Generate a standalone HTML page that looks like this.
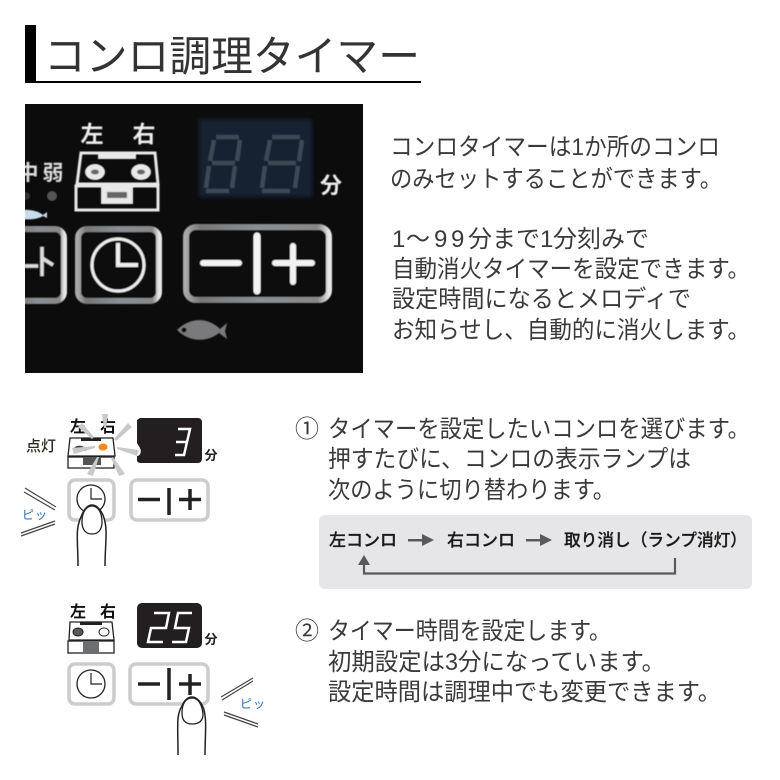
<!DOCTYPE html>
<html lang="ja">
<head>
<meta charset="utf-8">
<style>
html,body{margin:0;padding:0;background:#fff;}
svg{display:block;}
text{font-family:"Liberation Sans","Noto Sans CJK JP",sans-serif;}
.b{font-size:24px;fill:#3a3a3a;}
</style>
</head>
<body>
<svg width="780" height="780" viewBox="0 0 780 780" xmlns="http://www.w3.org/2000/svg">
<defs>
<linearGradient id="bz" x1="0" y1="0" x2="1" y2="0">
<stop offset="0" stop-color="#aaa"/><stop offset=".1" stop-color="#777"/><stop offset=".5" stop-color="#8a8f94"/><stop offset=".92" stop-color="#888"/><stop offset="1" stop-color="#e8e8e8"/>
</linearGradient>
<clipPath id="ph"><rect x="25" y="104" width="338" height="269"/></clipPath>
<filter id="sf" x="-5%" y="-5%" width="110%" height="110%"><feGaussianBlur stdDeviation="0.5"/></filter>
<filter id="sf2" x="-10%" y="-10%" width="120%" height="120%"><feGaussianBlur stdDeviation="2"/></filter>
</defs>
<rect width="780" height="780" fill="#fff"/>

<!-- Title -->
<rect x="25" y="25" width="11" height="58" fill="#000"/>
<rect x="36" y="81" width="385" height="2" fill="#000"/>
<text x="44" y="71" font-size="42" fill="#333" textLength="376" lengthAdjust="spacingAndGlyphs">コンロ調理タイマー</text>

<!-- Photo -->
<rect x="25" y="104" width="338" height="269" fill="#0c0c0d"/>
<g clip-path="url(#ph)">
<rect x="199" y="119" width="113" height="78" fill="#182431" filter="url(#sf2)"/>
<g filter="url(#sf)">
<g fill="none" stroke="#3c4a54" stroke-width="4.500">
<path d="M216 137H239M214 140l-4 21M240 140l-3 21M212 163H235M209 166l-3 22M235 166l-3 22M206 191H229"/>
<path d="M272 137H300M270 140l-4 21M302 140l-3 21M268 163H296M265 166l-3 22M298 166l-3 22M262 191H290"/>
</g>
<text x="92" y="142" font-size="23" font-weight="700" fill="#eee" text-anchor="middle">左</text>
<text x="144" y="142" font-size="23" font-weight="700" fill="#eee" text-anchor="middle">右</text>
<text x="331" y="193" font-size="22" font-weight="700" fill="#eee" text-anchor="middle">分</text>
<text x="28" y="180" font-size="21" font-weight="700" fill="#ddd" text-anchor="middle">中</text>
<text x="53" y="180" font-size="21" font-weight="700" fill="#ddd" text-anchor="middle">弱</text>
<circle cx="26" cy="196" r="4" fill="#333"/>
<circle cx="52" cy="196" r="5" fill="#555"/>
<path d="M20 210C33 209 39 212 43 215L47 212V218L43 216C38 219 32 220 20 219Z" fill="#c8ddea"/>
<!-- panel burner icon -->
<g fill="none" stroke="#e8e8e8" stroke-width="3">
<path d="M81 153H155L158 184H77Z"/>
<rect x="76" y="186" width="82" height="24"/>
</g>
<rect x="98" y="153" width="38" height="6" fill="#e8e8e8"/>
<ellipse cx="95" cy="172" rx="10" ry="8" fill="#e8e8e8"/><ellipse cx="95" cy="172" rx="4" ry="2.500" fill="#666"/>
<ellipse cx="141" cy="172" rx="10" ry="8" fill="#e8e8e8"/><ellipse cx="141" cy="172" rx="4" ry="2.500" fill="#666"/>
<rect x="101" y="186" width="32" height="18" fill="#e8e8e8"/><rect x="107" y="192" width="20" height="6" fill="#666"/>
<!-- buttons -->
<g fill="#0a0a0a" stroke="url(#bz)" stroke-width="6">
<rect x="10" y="229" width="54" height="72" rx="9"/>
<rect x="78" y="229" width="81" height="72" rx="9"/>
<rect x="186" y="227" width="143" height="73" rx="10"/>
</g>
<path d="M25 266H38M42 247V276M42 258L53 265" fill="none" stroke="#ddd" stroke-width="3.500"/>
<g fill="none" stroke="#eee">
<circle cx="118" cy="265" r="26" stroke-width="3"/>
<path d="M118 243V265H138" stroke-width="4"/>
</g>
<g stroke="#f2f2f2" stroke-linecap="round" fill="none">
<path d="M203 263H239" stroke-width="6"/>
<path d="M257 236V291" stroke-width="7"/>
<path d="M275 263H312M293 246V282" stroke-width="6"/>
</g>
<path d="M177 330C190 317 208 317 220 329L227 323L225 331L227 339L219 333C208 342 190 343 177 330Z" fill="#7a7a7c"/>
<circle cx="184" cy="330" r="2.500" fill="#111"/>
</g>
</g>

<!-- Right text -->
<text class="b" x="390" y="155" textLength="330" lengthAdjust="spacingAndGlyphs">コンロタイマーは1か所のコンロ</text>
<text class="b" x="390" y="187" textLength="332" lengthAdjust="spacingAndGlyphs">のみセットすることができます。</text>
<text class="b" x="392 406 434 451 468 492 516 540 553 577 601 625" y="247">1～99分まで1分刻みで</text>
<text class="b" x="392" y="277" textLength="358" lengthAdjust="spacingAndGlyphs">自動消火タイマーを設定できます。</text>
<text class="b" x="392" y="307" textLength="299" lengthAdjust="spacingAndGlyphs">設定時間になるとメロディで</text>
<text class="b" x="392" y="338" textLength="358" lengthAdjust="spacingAndGlyphs">お知らせし、自動的に消火します。</text>

<!-- Diagram 1 -->
<text x="70" y="432" font-size="16" font-weight="700" fill="#111">左</text>
<text x="100" y="432" font-size="16" font-weight="700" fill="#111">右</text>
<text x="26" y="451" font-size="15" font-weight="500" fill="#2c2a20" textLength="30">点灯</text>
<path d="M140 418H198a4 4 0 0 1 4 4V459a4 4 0 0 1 -4 4H140a4 4 0 0 1 -3 -2L137 456C140 456 142 452 140 448L137 443V420Z" fill="#231f20"/>
<path d="M178 429H190L187 442H176M187 442L184 455H175" fill="none" stroke="#fff" stroke-width="2.500"/>
<text x="211" y="460" font-size="13" font-weight="700" fill="#222" text-anchor="middle">分</text>
<g fill="#fff" stroke="#222" stroke-width="1.300">
<path d="M70 438H113L115 456H68Z"/>
<rect x="68" y="457" width="46" height="11"/>
</g>
<rect x="81" y="438" width="20" height="3" fill="#222"/>
<path d="M73 451a6 5 0 0 1 13 0Z" fill="#444"/>
<rect x="83" y="457" width="18" height="8" fill="#555"/>
<ellipse cx="103" cy="447" rx="5" ry="4" fill="#f08a1e" stroke="#fff" stroke-width="1"/>
<g fill="#c8c9ca">
<polygon points="102,414 108,414 106,428 104,428"/>
<polygon points="78,427 82,423 94,437 92,439"/>
<polygon points="132,427 128,423 114,439 116,441"/>
<polygon points="139,450 137,456 117,449 117,447"/>
<polygon points="72,448 74,454 95,448 95,446"/>
<polygon points="87,474 93,476 99,457 97,457"/>
<polygon points="119,476 125,474 113,457 111,458"/>
</g>
<rect x="69" y="480" width="45" height="40" rx="6" fill="#fff" stroke="#ccc" stroke-width="3.500"/>
<rect x="131" y="480" width="77" height="40" rx="6" fill="#fff" stroke="#ccc" stroke-width="3.500"/>
<circle cx="91" cy="499" r="14" fill="#fff" stroke="#222" stroke-width="1.300"/>
<path d="M91 488V499H102" fill="none" stroke="#222" stroke-width="1.200"/>
<path d="M138 499.500H160M169 488V515M179 499.500H201M190 489V510" fill="none" stroke="#222" stroke-width="3.500"/>
<path d="M78 566C78 540 75 530 81 517C84 509 88 505 92 505C97 505 102 511 104 518C108 530 105 545 105 566" fill="#fff" stroke="#222" stroke-width="1.500"/>
<path d="M82 522C82 511 87 506 92 506C97 506 102 511 102 522C102 530 98 534 92 534C86 534 82 530 82 522Z" fill="#fff" stroke="#222" stroke-width="1.300"/>
<g stroke="#444" stroke-width="1.200">
<path d="M25 488L56 507M24 492L55 510"/>
<path d="M21 533L55 521M21 536L55 524"/>
</g>
<text x="22" y="519" font-size="12" fill="#2a6bb0" textLength="25">ピッ</text>

<!-- Instruction 1 -->
<text class="b" x="295" y="437" font-size="25" textLength="26">①</text>
<text class="b" x="328" y="437" textLength="422" lengthAdjust="spacingAndGlyphs">タイマーを設定したいコンロを選びます。</text>
<text class="b" x="328" y="467" textLength="363" lengthAdjust="spacingAndGlyphs">押すたびに、コンロの表示ランプは</text>
<text class="b" x="328" y="498" textLength="287" lengthAdjust="spacingAndGlyphs">次のように切り替わります。</text>

<!-- flow box -->
<rect x="319" y="515" width="433" height="74" rx="6" fill="#e6e6e8"/>
<g font-size="17" font-weight="500" fill="#1a1a1a" stroke="#1a1a1a" stroke-width="0.250">
<text x="329" y="546" textLength="68" lengthAdjust="spacingAndGlyphs">左コンロ</text>
<text x="447" y="546" textLength="68" lengthAdjust="spacingAndGlyphs">右コンロ</text>
<text x="564" y="546" textLength="183" lengthAdjust="spacingAndGlyphs">取り消し（ランプ消灯）</text>
</g>
<g fill="#58595b">
<rect x="408" y="539" width="17" height="2.500"/><path d="M422 534L434 540L422 546Z"/>
<rect x="526" y="539" width="17" height="2.500"/><path d="M540 534L552 540L540 546Z"/>
<path d="M364 555L370 565H358Z"/>
</g>
<path d="M364 565V573.500H675V558" fill="none" stroke="#58595b" stroke-width="2.200"/>

<!-- Diagram 2 -->
<text x="70" y="617" font-size="16" font-weight="700" fill="#111">左</text>
<text x="100" y="617" font-size="16" font-weight="700" fill="#111">右</text>
<rect x="137" y="603" width="65" height="45" rx="5" fill="#231f20"/>
<path d="M154 613H169L166 628H151L148 642H163M192 613H178L175 628H189L186 642H172" fill="none" stroke="#fff" stroke-width="2.500"/>
<text x="211" y="644" font-size="13" font-weight="700" fill="#222" text-anchor="middle">分</text>
<g fill="#fff" stroke="#222" stroke-width="1.300">
<path d="M70 622H112L114 640H69Z"/>
<rect x="68" y="641" width="46" height="12"/>
</g>
<rect x="80" y="622" width="22" height="3" fill="#222"/>
<ellipse cx="78" cy="632" rx="5" ry="4" fill="#58595b" stroke="#222" stroke-width="1"/>
<ellipse cx="104" cy="632" rx="5" ry="4" fill="#fff" stroke="#222" stroke-width="1"/>
<rect x="83" y="642" width="16" height="11" fill="#6d6e70"/>
<rect x="69" y="664" width="45" height="40" rx="6" fill="#fff" stroke="#ccc" stroke-width="3.500"/>
<rect x="130" y="664" width="78" height="40" rx="6" fill="#fff" stroke="#ccc" stroke-width="3.500"/>
<circle cx="91" cy="684" r="14" fill="#fff" stroke="#222" stroke-width="1.300"/>
<path d="M91 673V684H102" fill="none" stroke="#222" stroke-width="1.200"/>
<path d="M138 684H160M169 668V700M179 684H201M190 674V695" fill="none" stroke="#222" stroke-width="3.500"/>
<path d="M178 755C178 725 176 715 182 706C185 699 189 697 192 697C197 697 202 703 204 710C207 722 205 735 205 755" fill="#fff" stroke="#222" stroke-width="1.500"/>
<path d="M182 713C182 702 187 698 192 698C198 698 202 704 203 714C203 722 198 724 192 724C186 724 182 721 182 713Z" fill="#fff" stroke="#222" stroke-width="1.300"/>
<g stroke="#444" stroke-width="1.200">
<path d="M221 697L253 678M222 700L253 681"/>
<path d="M224 712L258 724M224 715L258 727"/>
</g>
<text x="240" y="708" font-size="12" fill="#2a6bb0" textLength="25">ピッ</text>

<!-- Instruction 2 -->
<text class="b" x="295" y="639" font-size="25" textLength="26">②</text>
<text class="b" x="328" y="639" textLength="283" lengthAdjust="spacingAndGlyphs">タイマー時間を設定します。</text>
<text class="b" x="328" y="670" textLength="337" lengthAdjust="spacingAndGlyphs">初期設定は3分になっています。</text>
<text class="b" x="328" y="700" textLength="393" lengthAdjust="spacingAndGlyphs">設定時間は調理中でも変更できます。</text>
</svg>
</body>
</html>
